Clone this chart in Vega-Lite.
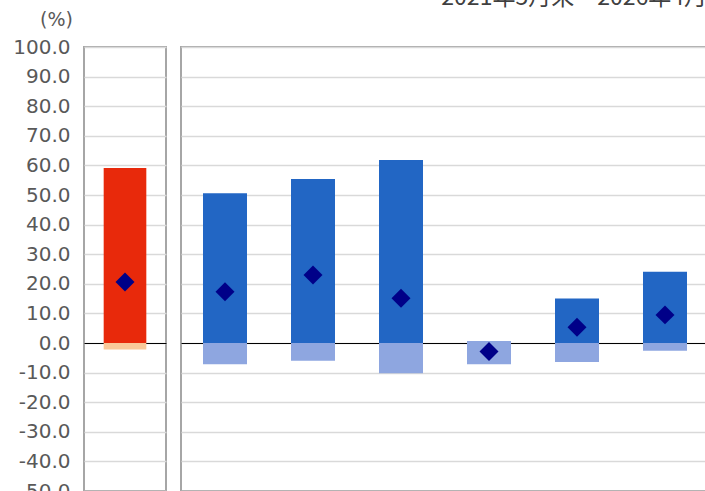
{
  "$schema": "https://vega.github.io/schema/vega-lite/v6.json",
  "padding": {"left": 11, "top": -14, "right": 0, "bottom": 0},
  "config": {
    "view": {"stroke": "#a6a6a6", "strokeWidth": 2},
    "axis": {"labelFont": "DejaVu Sans", "titleFont": "DejaVu Sans", "gridColor": "#d9d9d9", "gridWidth": 1.5}
  },
  "datasets": {
    "bars": [
      {"panel": "L", "cat": "A", "part": "red_up", "val": 0, "val2": 59.1},
      {"panel": "L", "cat": "A", "part": "red_down", "val": -2.2, "val2": 0},
      {"panel": "R", "cat": "1", "part": "blue_up", "val": 0, "val2": 50.6},
      {"panel": "R", "cat": "1", "part": "blue_down", "val": -7.2, "val2": 0},
      {"panel": "R", "cat": "2", "part": "blue_up", "val": 0, "val2": 55.4},
      {"panel": "R", "cat": "2", "part": "blue_down", "val": -6.0, "val2": 0},
      {"panel": "R", "cat": "3", "part": "blue_up", "val": 0, "val2": 61.8},
      {"panel": "R", "cat": "3", "part": "blue_down", "val": -10.2, "val2": 0},
      {"panel": "R", "cat": "4", "part": "blue_down", "val": -7.2, "val2": 0.7},
      {"panel": "R", "cat": "5", "part": "blue_up", "val": 0, "val2": 15.0},
      {"panel": "R", "cat": "5", "part": "blue_down", "val": -6.4, "val2": 0},
      {"panel": "R", "cat": "6", "part": "blue_up", "val": 0, "val2": 24.1},
      {"panel": "R", "cat": "6", "part": "blue_down", "val": -2.6, "val2": 0}
    ],
    "points": [
      {"panel": "L", "cat": "A", "val": 20.6},
      {"panel": "R", "cat": "1", "val": 17.3},
      {"panel": "R", "cat": "2", "val": 23.0},
      {"panel": "R", "cat": "3", "val": 15.1},
      {"panel": "R", "cat": "4", "val": -2.9},
      {"panel": "R", "cat": "5", "val": 5.3},
      {"panel": "R", "cat": "6", "val": 9.5}
    ]
  },
  "hconcat": [
    {
      "width": 82,
      "height": 444,
      "encoding": {
        "x": {"field": "cat", "type": "nominal", "scale": {"paddingInner": 0.48, "paddingOuter": 0.24},
              "axis": {"labels": false, "ticks": false, "title": null, "offset": -148, "domainColor": "#000000", "domainWidth": 1}},
        "y": {"field": "val", "type": "quantitative", "scale": {"domain": [-50, 100], "nice": false},
              "axis": {"values": [-50, -40, -30, -20, -10, 0, 10, 20, 30, 40, 50, 60, 70, 80, 90, 100], "tickCount": 30,
                       "labelExpr": "(datum.value < 0 ? '-' : '') + format(abs(datum.value), '.1f')", "labelOverlap": false,
                       "domain": false, "ticks": false, "labelPadding": 14, "labelFontSize": 20, "labelColor": "#595959",
                       "title": "(%)", "titleAngle": 0, "titleAlign": "center", "titleBaseline": "middle", "titleX": -28, "titleY": -28,
                       "titleFontSize": 19, "titleFontWeight": "normal", "titleColor": "#595959"}}
      },
      "layer": [
        {
          "data": {"name": "bars"},
          "transform": [{"filter": "datum.panel == 'L'"}],
          "mark": {"type": "bar"},
          "encoding": {
            "y2": {"field": "val2"},
            "color": {"field": "part", "type": "nominal", "legend": null,
                      "scale": {"domain": ["red_up", "red_down", "blue_up", "blue_down"], "range": ["#e8290b", "#f9c99a", "#2266c4", "#8ea6e0"]}}
          }
        },
        {
          "data": {"name": "points"},
          "transform": [{"filter": "datum.panel == 'L'"}],
          "mark": {"type": "point", "shape": "diamond", "filled": true, "size": 360, "color": "#000088", "opacity": 1}
        }
      ]
    },
    {
      "width": 528,
      "height": 444,
      "title": {"text": "2021年5月末～2026年4月末", "anchor": "end", "font": "Noto Sans CJK JP", "fontSize": 23, "fontWeight": "normal", "color": "#404040", "offset": 37, "dx": 21},
      "encoding": {
        "x": {"field": "cat", "type": "nominal", "scale": {"paddingInner": 0.5, "paddingOuter": 0.25},
              "axis": {"labels": false, "title": null, "offset": -148, "domainColor": "#000000", "domainWidth": 1,
                       "bandPosition": 0, "tickColor": "#000000", "tickSize": 4, "tickWidth": 1}},
        "y": {"field": "val", "type": "quantitative", "scale": {"domain": [-50, 100], "nice": false},
              "axis": {"values": [-50, -40, -30, -20, -10, 0, 10, 20, 30, 40, 50, 60, 70, 80, 90, 100], "tickCount": 30,
                       "labels": false, "domain": false, "ticks": false, "title": null}}
      },
      "layer": [
        {
          "data": {"name": "bars"},
          "transform": [{"filter": "datum.panel == 'R'"}],
          "mark": {"type": "bar"},
          "encoding": {
            "y2": {"field": "val2"},
            "color": {"field": "part", "type": "nominal", "legend": null,
                      "scale": {"domain": ["red_up", "red_down", "blue_up", "blue_down"], "range": ["#e8290b", "#f9c99a", "#2266c4", "#8ea6e0"]}}
          }
        },
        {
          "data": {"name": "points"},
          "transform": [{"filter": "datum.panel == 'R'"}],
          "mark": {"type": "point", "shape": "diamond", "filled": true, "size": 360, "color": "#000088", "opacity": 1}
        }
      ]
    }
  ],
  "spacing": 13
}
